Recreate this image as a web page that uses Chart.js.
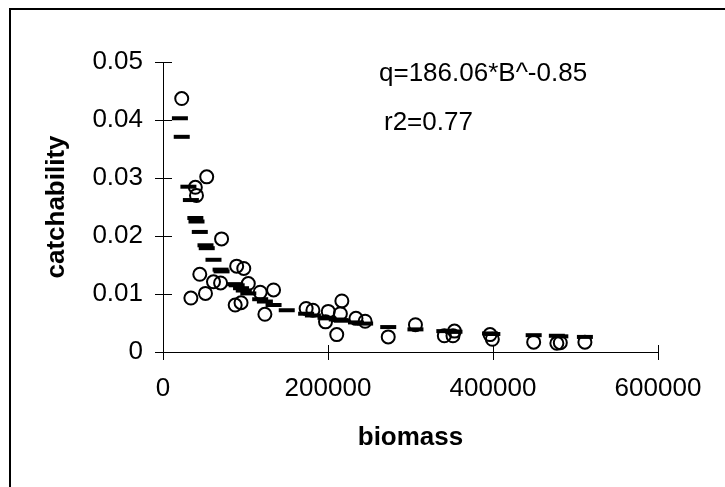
<!DOCTYPE html>
<html>
<head>
<meta charset="utf-8">
<script src="https://cdn.jsdelivr.net/npm/chart.js@4.4.1/dist/chart.umd.min.js"></script>
<style>
    body { margin: 0; background: #fff; }
    canvas { display: block; }
</style>
</head>
<body>
<canvas id="grafica" width="725" height="487"></canvas>
<script>
// datos
const biomass = [22700, 39200, 40600, 53000, 71000, 44600, 33800, 51500, 61200, 69800,
    89300, 97900, 103400, 87500, 94600, 117800, 134000, 123500, 173500, 181700,
    200300, 216800, 215000, 197000, 210600, 233900, 245000, 273000, 306000, 341000,
    351500, 353300, 396400, 399200, 449300, 477400, 481600, 511400];
const catchability = [0.0437, 0.0284, 0.0270, 0.0302, 0.0195, 0.0134, 0.0093, 0.0101, 0.0121, 0.0119,
    0.0148, 0.0144, 0.0118, 0.0081, 0.0085, 0.0103, 0.0107, 0.0065, 0.0075, 0.0072,
    0.0070, 0.0088, 0.0066, 0.0052, 0.0030, 0.0058, 0.0053, 0.0026, 0.0047, 0.0028,
    0.0028, 0.0036, 0.0030, 0.0022, 0.0017, 0.0015, 0.0016, 0.0017];

// valores ajustados (marcas de guion)
const fitBiomass = [20500, 22700, 30800, 33800, 39200, 40600, 44600, 51500, 53000, 61200,
    69800, 71000, 87500, 89300, 94600, 97900, 103400, 117800, 123500, 134000,
    150000, 173500, 181700, 197000, 200300, 210600, 215000, 216800, 233900, 245000,
    273000, 306000, 341000, 351500, 353300, 396400, 399200, 449300, 477400, 481600, 511400];
const fitCatchability = [0.0403, 0.0371, 0.0285, 0.0262, 0.0231, 0.0225, 0.0207, 0.0184, 0.0179, 0.0159,
    0.0142, 0.0139, 0.0117, 0.0115, 0.0110, 0.0106, 0.0101, 0.0091, 0.0087, 0.0081,
    0.0072, 0.0066, 0.0063, 0.0059, 0.0058, 0.0056, 0.0055, 0.0054, 0.0051, 0.0049,
    0.0043, 0.0039, 0.0036, 0.0035, 0.0035, 0.0032, 0.0031, 0.0029, 0.0028, 0.0027, 0.0026];

const xTicks = [0, 200000, 400000, 600000];
const yTicks = [0, 0.01, 0.02, 0.03, 0.04, 0.05];
const equation = ['q=186.06*B^-0.85', 'r2=0.77'];

const fuente = 'Liberation Sans, Arial, sans-serif';

const puntos = biomass.map((b, i) => ({ x: b, y: catchability[i] }));
const ajuste = fitBiomass.map((b, i) => ({ x: b, y: fitCatchability[i] }));

// marco (solo arriba e izquierda) y textos de la ecuacion
const extras = {
    id: 'extras',
    beforeDraw(chart) {
        const ctx = chart.ctx;
        ctx.save();
        ctx.fillStyle = '#fff';
        ctx.fillRect(0, 0, chart.width, chart.height);
        ctx.strokeStyle = '#000';
        ctx.lineWidth = 2;
        ctx.beginPath();
        ctx.moveTo(10, chart.height);
        ctx.lineTo(10, 9);
        ctx.lineTo(chart.width, 9);
        ctx.stroke();
        ctx.restore();
    },
    afterDraw(chart) {
        const ctx = chart.ctx;
        const { left, bottom } = chart.chartArea;
        const x = chart.scales.x;
        const y = chart.scales.y;
        ctx.save();
        ctx.strokeStyle = '#000';
        ctx.lineWidth = 1;
        ctx.beginPath();
        // parte interior de las marcas de los ejes
        x.ticks.forEach(t => {
            const px = Math.round(x.getPixelForValue(t.value)) + 0.5;
            ctx.moveTo(px, bottom);
            ctx.lineTo(px, bottom - 7);
        });
        y.ticks.forEach(t => {
            const py = Math.round(y.getPixelForValue(t.value)) + 0.5;
            ctx.moveTo(left, py);
            ctx.lineTo(left + 9, py);
        });
        ctx.stroke();
        ctx.fillStyle = '#000';
        ctx.font = '26px ' + fuente;
        ctx.textBaseline = 'middle';
        ctx.fillText(equation[0], 379, 74);
        ctx.fillText(equation[1], 384, 123);
        ctx.restore();
    }
};

const ctx = document.getElementById('grafica').getContext('2d');
new Chart(ctx, {
    type: 'scatter',
    data: {
        datasets: [
            {
                label: 'ajuste',
                data: ajuste,
                order: 0,
                pointStyle: 'line',
                pointRadius: 8,
                borderWidth: 4,
                borderColor: '#000',
                backgroundColor: '#000'
            },
            {
                label: 'catchability',
                data: puntos,
                order: 1,
                pointStyle: 'circle',
                pointRadius: 6.5,
                borderWidth: 2,
                borderColor: '#000',
                backgroundColor: 'rgba(0,0,0,0)'
            }
        ]
    },
    options: {
        responsive: false,
        animation: false,
        layout: { padding: { top: 62, right: 67, left: 0, bottom: 0 } },
        plugins: {
            legend: { display: false },
            tooltip: { enabled: false }
        },
        scales: {
            x: {
                type: 'linear',
                min: 0,
                max: 600000,
                afterBuildTicks: scale => { scale.ticks = xTicks.map(v => ({ value: v })); },
                afterFit: scale => { scale.height = 135; },
                ticks: {
                    color: '#000',
                    padding: 13,
                    maxRotation: 0,
                    font: { family: fuente, size: 26 },
                    callback: v => String(v)
                },
                grid: { drawOnChartArea: false, drawTicks: true, tickLength: 8, color: '#000' },
                border: { color: '#000', width: 1 },
                title: {
                    display: true,
                    text: 'biomass',
                    color: '#000',
                    font: { family: fuente, size: 26, weight: 'bold' },
                    padding: { top: 0, bottom: 34 }
                }
            },
            y: {
                type: 'linear',
                min: 0,
                max: 0.05,
                afterBuildTicks: scale => { scale.ticks = yTicks.map(v => ({ value: v })); },
                afterFit: scale => { scale.width = 163; },
                ticks: {
                    color: '#000',
                    padding: 12,
                    font: { family: fuente, size: 26 },
                    callback: v => v === 0 ? '0' : v.toFixed(2)
                },
                grid: { drawOnChartArea: false, drawTicks: true, tickLength: 8, color: '#000' },
                border: { color: '#000', width: 1 },
                title: {
                    display: true,
                    text: 'catchability',
                    color: '#000',
                    font: { family: fuente, size: 26, weight: 'bold' },
                    padding: { top: 41, bottom: 0 }
                }
            }
        }
    },
    plugins: [extras]
});
</script>
</body>
</html>
